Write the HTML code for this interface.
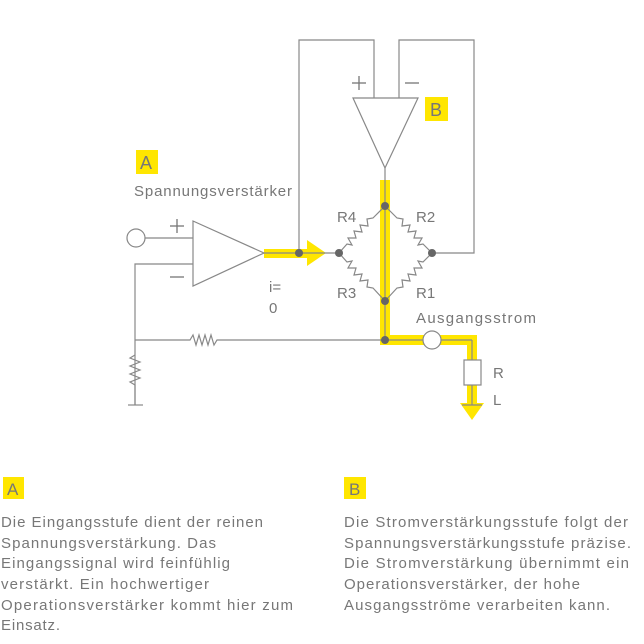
<!DOCTYPE html>
<html><head><meta charset="utf-8"><style>
html,body{margin:0;padding:0;background:#fff;}
svg{display:block;}
text{font-family:"Liberation Sans",sans-serif;fill:#777;font-size:15px;}
</style></head><body>
<svg width="644" height="644" viewBox="0 0 644 644" xmlns="http://www.w3.org/2000/svg">
<g fill="#ffe600" stroke="none">
<rect x="380" y="180" width="10" height="165"/>
<rect x="380" y="335" width="97" height="10"/>
<rect x="467" y="335" width="10" height="70"/>
<polygon points="460,403 484,403 472,420"/>
<rect x="264" y="249" width="46" height="9"/>
<polygon points="307,240 326,253 307,266"/>
<rect x="136" y="150" width="22" height="24"/>
<rect x="425" y="97" width="23" height="24"/>
<rect x="3" y="477" width="21" height="22"/>
<rect x="344" y="477" width="22" height="22"/>
</g>
<g fill="none" stroke="#888" stroke-width="1.2">
<polyline points="299,253 299,40 374,40 374,98"/>
<polyline points="432,253 474,253 474,40 399,40 399,98"/>
<polygon points="353,98 418,98 385,168"/>
<line x1="385" y1="168" x2="385" y2="340"/>
<polygon points="193,221 193,286 264,253"/>
<line x1="145" y1="238" x2="193" y2="238"/>
<polyline points="193,264 135,264 135,405"/>
<line x1="128" y1="405" x2="143" y2="405"/>
<line x1="264" y1="253" x2="339" y2="253"/>
<polyline points="135,340 190,340 193,335 196,345 199,335 202,345 205,335 208,345 211,335 214,345 217,340 385,340"/>
<polyline points="135,355 130,358 140,362 130,366 140,370 130,374 140,378 130,382 135,385 135,405"/>
<polyline points="339,253 347,244 352,245 348,238 356,238 354,231 362,232 360,225 368,226 367,219 373,218 385,206"/>
<polyline points="385,206 397,218 403,219 402,226 410,225 408,232 416,231 414,238 422,238 418,245 423,244 432,253"/>
<polyline points="339,253 347,262 352,261 348,268 356,268 354,275 362,274 360,281 368,280 367,287 373,288 385,301"/>
<polyline points="385,301 397,288 403,287 402,280 410,281 408,274 416,275 414,268 422,268 418,261 423,262 432,253"/>
<line x1="385" y1="340" x2="472" y2="340"/>
<polyline points="472,340 472,360"/>
<line x1="472" y1="385" x2="472" y2="405"/>
<line x1="462" y1="405" x2="482" y2="405"/>
</g>
<circle cx="136" cy="238" r="9" fill="#fff" stroke="#888" stroke-width="1.2"/>
<circle cx="432" cy="340" r="9" fill="#fff" stroke="#888" stroke-width="1.2"/>
<rect x="464" y="360" width="17" height="25" fill="#fff" stroke="#888" stroke-width="1.2"/>
<g fill="#666">
<circle cx="299" cy="253" r="4"/>
<circle cx="339" cy="253" r="4"/>
<circle cx="432" cy="253" r="4"/>
<circle cx="385" cy="206" r="4"/>
<circle cx="385" cy="301" r="4"/>
<circle cx="385" cy="340" r="4"/>
</g>
<g stroke="#777" stroke-width="1.3">
<line x1="170" y1="226" x2="184" y2="226"/><line x1="177" y1="219" x2="177" y2="233"/>
<line x1="170" y1="277" x2="184" y2="277"/>
<line x1="352" y1="83" x2="366" y2="83"/><line x1="359" y1="76" x2="359" y2="90"/>
<line x1="405" y1="83" x2="419" y2="83"/>
</g>
<text x="140" y="169" style="font-size:18px">A</text>
<text x="430" y="116" style="font-size:18px">B</text>
<text x="134" y="196" textLength="158">Spannungsverstärker</text>
<text x="337" y="222">R4</text>
<text x="416" y="222">R2</text>
<text x="337" y="298">R3</text>
<text x="416" y="298">R1</text>
<text x="269" y="292">i=</text>
<text x="269" y="313">0</text>
<text x="416" y="323" textLength="120">Ausgangsstrom</text>
<text x="493" y="378">R</text>
<text x="493" y="405">L</text>
<text x="7" y="495" style="font-size:17px">A</text>
<text x="349" y="495" style="font-size:17px">B</text>
<g>
<text x="1" y="527" textLength="262">Die Eingangsstufe dient der reinen</text>
<text x="1" y="548" textLength="215">Spannungsverstärkung. Das</text>
<text x="1" y="568" textLength="229">Eingangssignal wird feinfühlig</text>
<text x="1" y="589" textLength="208">verstärkt. Ein hochwertiger</text>
<text x="1" y="610" textLength="292">Operationsverstärker kommt hier zum</text>
<text x="1" y="630" textLength="59">Einsatz.</text>
<text x="344" y="527" textLength="284">Die Stromverstärkungsstufe folgt der</text>
<text x="344" y="548" textLength="287">Spannungsverstärkungsstufe präzise.</text>
<text x="344" y="568" textLength="285">Die Stromverstärkung übernimmt ein</text>
<text x="344" y="589" textLength="236">Operationsverstärker, der hohe</text>
<text x="344" y="610" textLength="266">Ausgangsströme verarbeiten kann.</text>
</g>
</svg>
</body></html>
